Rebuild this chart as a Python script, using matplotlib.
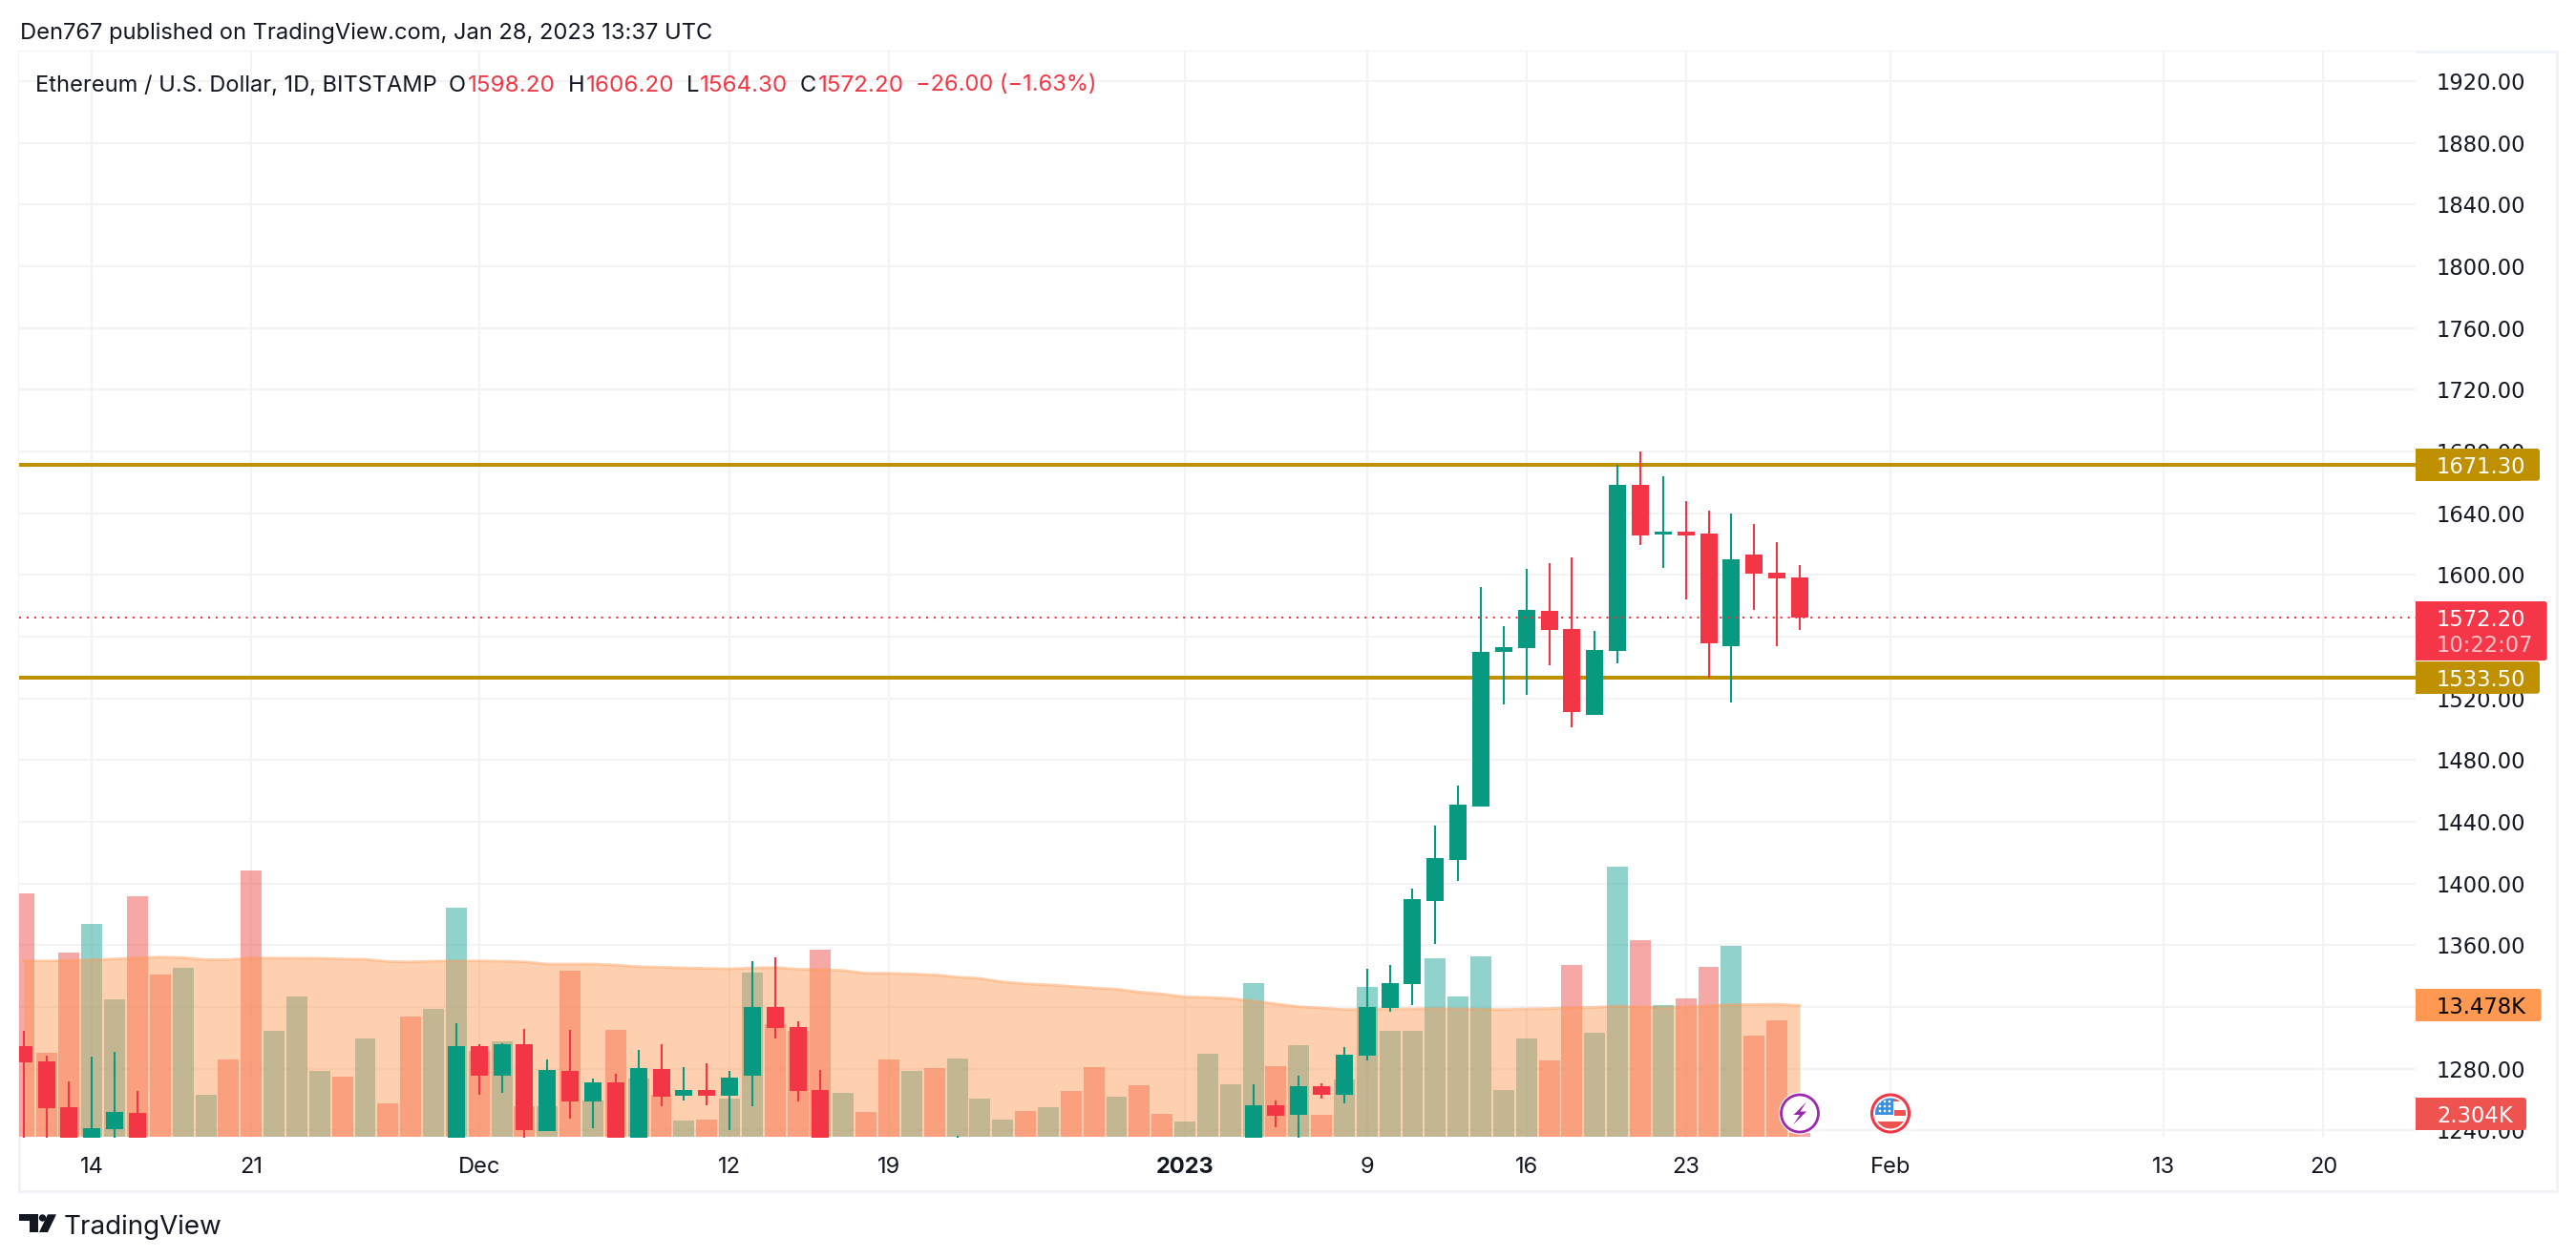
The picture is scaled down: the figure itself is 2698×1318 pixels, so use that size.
#!/usr/bin/env python3
"""
Ethereum daily candles with volume, TradingView snapshot style
"""

import matplotlib
matplotlib.use("Agg")
import matplotlib.pyplot as plt
import numpy as np
from matplotlib.patches import Circle, FancyBboxPatch, Polygon, Rectangle
from matplotlib.transforms import Affine2D

W, H = 2698, 1318

GREEN = "#089981"
RED = "#F23645"
GOLD = "#BF9000"
ORANGE = "#FF9850"
VOL_RED = "#EF5350"
VOL_GREEN = "#26A69A"
GRID = "#F3F3F4"
BORDER = "#F0F3FA"
TEXT = "#131722"
# price scale digits are tabular in the original, DejaVu has the same advance
SCALE_FONT = ["DejaVu Sans"]

# days are counted from 2023-01-01; candles below the visible range are left out
candle_days = [-51, -50, -49, -48, -47, -46,
               -32, -31, -30, -29, -28, -27, -26, -25, -24, -23, -22, -21, -20,
               -19, -18, -17, -16, -10,
               3, 4, 5, 6, 7, 8, 9, 10, 11, 12, 13, 14, 15, 16, 17, 18, 19, 20,
               21, 22, 23, 24, 25, 26, 27]
opens = [1294.7, 1284.8, 1255.1, 1220.0, 1240.9, 1251.4,
         1217.0, 1294.7, 1275.5, 1296.0, 1239.7, 1278.6, 1258.8, 1271.2, 1228.0, 1279.9, 1262.6, 1266.3, 1262.6,
         1275.5, 1320.1, 1307.1, 1266.3, 1215.0,
         1214.0, 1256.4, 1250.2, 1268.7, 1263.2, 1288.5, 1319.5, 1334.9, 1388.7, 1415.5, 1450.0, 1550.1, 1552.6, 1576.7, 1565.0, 1509.3, 1550.8, 1658.4,
         1626.2, 1628.1, 1626.8, 1553.9, 1613.2, 1601.5, 1598.2]
highs = [1304.6, 1288.5, 1271.8, 1287.9, 1291.0, 1265.7,
         1309.6, 1296.0, 1296.6, 1305.8, 1286.1, 1305.2, 1273.7, 1276.8, 1292.2, 1296.0, 1281.1, 1283.6, 1278.6,
         1349.8, 1352.2, 1310.8, 1279.3, 1236.6,
         1270.0, 1259.5, 1275.5, 1270.6, 1294.1, 1344.8, 1347.3, 1396.8, 1437.6, 1463.6, 1592.2, 1566.8, 1603.9, 1607.7, 1611.4, 1563.8, 1671.3, 1680.0,
         1663.9, 1647.9, 1641.7, 1639.8, 1633.0, 1621.3, 1606.2]
lows = [1225.0, 1225.0, 1210.0, 1210.0, 1232.0, 1218.0,
        1200.0, 1263.2, 1264.4, 1228.0, 1239.7, 1247.7, 1241.5, 1225.0, 1220.0, 1255.8, 1259.5, 1256.4, 1240.3,
        1255.8, 1299.7, 1258.8, 1215.0, 1210.0,
        1205.0, 1242.2, 1230.0, 1260.7, 1257.6, 1285.4, 1317.0, 1321.3, 1360.9, 1401.7, 1450.0, 1516.1, 1522.3, 1541.5, 1501.3, 1509.3, 1542.7, 1619.4,
        1604.6, 1584.2, 1533.4, 1517.4, 1577.4, 1553.9, 1564.3]
closes = [1284.2, 1254.5, 1222.0, 1241.5, 1252.0, 1228.0,
          1294.7, 1275.5, 1296.0, 1240.3, 1279.3, 1258.8, 1271.2, 1232.0, 1280.5, 1261.9, 1266.3, 1262.6, 1274.3,
          1320.1, 1306.5, 1265.7, 1225.0, 1225.0,
          1256.4, 1249.6, 1268.7, 1263.2, 1289.2, 1320.1, 1335.5, 1390.0, 1416.6, 1451.2, 1550.1, 1553.2, 1577.3, 1564.4, 1511.2, 1551.4, 1658.4, 1625.6,
          1628.1, 1625.6, 1555.7, 1610.1, 1600.9, 1597.8, 1572.2]

# volume in thousands, one value per day from -51 to 27
volume_days = list(range(-51, 28))
volumes = [23.27, 9.34, 18.10, 20.60, 14.01, 23.02, 16.18, 16.76, 5.67, 8.76,
           25.27, 11.26, 14.26, 7.75, 7.25, 10.59, 4.92, 12.51, 13.18, 22.02,
           9.51, 10.34, 4.67, 4.67, 16.51, 5.17, 11.34, 7.09, 5.67, 3.42,
           3.50, 5.34, 16.34, 11.84, 11.26, 18.35, 5.84, 4.17, 8.76, 7.75,
           8.00, 8.84, 5.34, 3.50, 4.25, 4.59, 6.00, 8.09, 5.50, 6.50,
           4.00, 3.33, 9.26, 6.59, 15.43, 8.17, 10.01, 3.92, 7.00, 15.09,
           11.26, 11.26, 17.60, 14.26, 17.76, 6.09, 10.59, 8.67, 17.01, 11.09,
           25.60, 19.18, 13.51, 14.09, 16.85, 18.68, 10.84, 12.17, 2.304]
volume_up = [0, 0, 0, 1, 1, 0, 0, 1, 1, 0,
             0, 1, 1, 1, 0, 1, 0, 0, 1, 1,
             0, 1, 0, 1, 0, 1, 0, 1, 0, 1,
             0, 1, 1, 0, 0, 0, 1, 0, 0, 1,
             0, 1, 1, 1, 0, 1, 0, 0, 1, 0,
             0, 1, 1, 1, 1, 0, 1, 0, 1, 1,
             1, 1, 1, 1, 1, 1, 1, 0, 0, 1,
             1, 0, 1, 0, 0, 1, 0, 0, 0]
volume_ma = [17.37, 17.37, 17.40, 17.48, 17.54, 17.62, 17.71, 17.65, 17.48, 17.48,
             17.62, 17.62, 17.60, 17.60, 17.54, 17.51, 17.32, 17.29, 17.35, 17.37,
             17.37, 17.35, 17.29, 17.10, 17.10, 17.10, 17.01, 16.87, 16.82, 16.76,
             16.71, 16.68, 16.76, 16.79, 16.65, 16.62, 16.54, 16.29, 16.29, 16.23,
             16.15, 15.96, 15.84, 15.54, 15.37, 15.29, 15.15, 15.01, 14.90, 14.65,
             14.48, 14.23, 14.18, 14.09, 13.87, 13.62, 13.37, 13.26, 13.12, 13.15,
             13.18, 13.18, 13.20, 13.18, 13.15, 13.12, 13.18, 13.20, 13.29, 13.31,
             13.43, 13.34, 13.29, 13.34, 13.45, 13.56, 13.56, 13.59, 13.48]

price_ticks = list(range(1240, 1921, 40))
date_ticks = [-48, -41, -31, -20, -13, 0, 8, 15, 22, 31, 43, 50]
date_labels = ["14", "21", "Dec", "12", "19", "2023", "9", "16", "23", "Feb", "13", "20"]

resistance = 1671.30
support = 1533.50
last_close = 1572.20

plt.rcParams["font.family"] = ["Inter", "DejaVu Sans"]

fig = plt.figure(figsize=(W / 100, H / 100), dpi=100, facecolor="white")

# everything outside the axes is placed in image pixels, y going down
PIXELS = Affine2D().scale(1, -1).translate(0, H)


def text_px(x, y, s, color=TEXT, size=17, ha="left", **kwargs):
    return fig.text(x / W, 1 - y / H, s, color=color, fontsize=size, ha=ha,
                    va="center_baseline", zorder=6, **kwargs)


def add_tag(x1, y0, y1, color):
    # square on the axis side, rounded on the outer side
    fig.add_artist(FancyBboxPatch((x1 - 40, y0 + 3), 37, y1 - y0 - 6, boxstyle="round,pad=3",
                                  fc=color, ec="none", transform=PIXELS, zorder=4))
    fig.add_artist(Rectangle((2530, y0), x1 - 2530 - 20, y1 - y0, fc=color, ec="none",
                             transform=PIXELS, zorder=4))


rect = [20 / W, 1 - 1191.7 / H, (2530 - 20) / W, (1191.7 - 53.7) / H]
xlim = (-51.2, 54.05)
ylim = (1235.5, 1939.3)

# bottom layer: grid and tick labels
ax_grid = fig.add_axes(rect, zorder=1)
ax_grid.set_xlim(xlim)
ax_grid.set_ylim(ylim)
ax_grid.yaxis.tick_right()
ax_grid.set_yticks(price_ticks)
ax_grid.set_yticklabels([f"{p}.00" for p in price_ticks], family=SCALE_FONT)
ax_grid.set_xticks(date_ticks)
ax_grid.set_xticklabels(date_labels)
ax_grid.get_xticklabels()[5].set_fontweight("bold")
ax_grid.tick_params(axis="y", length=0, pad=15.8, labelsize=16.3, labelcolor=TEXT)
ax_grid.tick_params(axis="x", length=0, pad=14.5, labelsize=17, labelcolor=TEXT)
ax_grid.grid(True, color=GRID, linewidth=1.6)
ax_grid.set_axisbelow(True)
for s in ax_grid.spines.values():
    s.set_visible(False)

# middle layer: volume bars with the moving average area on top of them
ax_vol = fig.add_axes(rect, zorder=2)
ax_vol.set_xlim(xlim)
ax_vol.set_ylim(1.944, 96.85)
ax_vol.axis("off")
base = 2.0
bar_colors = [VOL_GREEN if up else VOL_RED for up in volume_up]
ax_vol.bar(volume_days, np.array(volumes) - base, bottom=base, width=0.92, color=bar_colors,
           alpha=0.5, linewidth=0)
ax_vol.fill_between(volume_days, 2.05, volume_ma, color=ORANGE, alpha=0.456, linewidth=0)
ax_vol.plot(volume_days, volume_ma, color=ORANGE, alpha=0.45, linewidth=2)

# top layer: levels, candles, last price
ax = fig.add_axes(rect, zorder=3)
ax.set_xlim(xlim)
ax.set_ylim(ylim)
ax.axis("off")
ax.axhline(resistance, color=GOLD, linewidth=2.9, zorder=1)
ax.axhline(support, color=GOLD, linewidth=2.9, zorder=1)
candle_colors = [GREEN if c >= o else RED for o, c in zip(opens, closes)]
ax.vlines(candle_days, lows, highs, colors=candle_colors, linewidth=1.5, zorder=2)
ax.bar(candle_days, np.abs(np.array(closes) - np.array(opens)), bottom=np.minimum(opens, closes),
       width=0.755, color=candle_colors, linewidth=0, zorder=3)
ax.axhline(last_close, color=RED, linewidth=1.5, linestyle=(0, (1, 2.8)), zorder=4)

# outer frame
fig.add_artist(Rectangle((20, 53.5), 2658, 1194.5, fc="none", ec=BORDER, lw=2.2,
                         transform=PIXELS, zorder=0.5))

# price scale tags
add_tag(2660, 470, 503.7, GOLD)
add_tag(2660, 693, 726.7, GOLD)
add_tag(2667.7, 630, 692, "#F43648")
add_tag(2661.7, 1036, 1070, ORANGE)
add_tag(2646, 1150, 1184, VOL_RED)
text_px(2552, 486.7, "1671.30", color="white", size=16.3, family=SCALE_FONT)
text_px(2552, 710, "1533.50", color="white", size=16.3, family=SCALE_FONT)
text_px(2552, 646.7, "1572.20", color="white", size=16.3, family=SCALE_FONT)
text_px(2552, 674, "10:22:07", color="#FBC3C8", size=16.3, family=SCALE_FONT)
text_px(2552, 1052.7, "13.478K", color="black", size=16.3, family=SCALE_FONT)
text_px(2552, 1166.7, "2.304K", color="white", size=16.3, family=SCALE_FONT)

# header and legend
text_px(21, 32, "Den767 published on TradingView.com, Jan 28, 2023 13:37 UTC", size=17.05)
text_px(37, 87, "Ethereum / U.S. Dollar, 1D, BITSTAMP", size=17)
for x, s in [(470, "O"), (595, "H"), (719, "L"), (838, "C")]:
    text_px(x, 87, s, size=17)
for x, s in [(490, "1598.20"), (614, "1606.20"), (733, "1564.30"), (857, "1572.20")]:
    text_px(x, 87, s, color=RED, size=17.4)
text_px(959, 87, "\u221226.00 (\u22121.63%)", color=RED, size=17)

# TradingView logo
for pts in [[(20, 1272.3), (40, 1272.3), (40, 1291), (31, 1291), (31, 1278.5), (20, 1278.5)],
            [(50, 1272.3), (59, 1272.3), (50, 1291), (41, 1291)]]:
    fig.add_artist(Polygon(pts, closed=True, fc=TEXT, ec="none", transform=PIXELS, zorder=5))
fig.add_artist(Circle((44.5, 1276), 3.7, fc=TEXT, ec="none", transform=PIXELS, zorder=5))
text_px(67, 1283, "TradingView", size=20)

# event markers on the time scale
cy = 1166.5
fig.add_artist(Circle((1885, cy), 22, fc="white", ec="none", transform=PIXELS, zorder=5))
fig.add_artist(Circle((1885, cy), 19.5, fc="white", ec="#9C27B0", lw=2, transform=PIXELS, zorder=5))
fig.add_artist(Polygon([(1892, 1154.5), (1878.5, 1168), (1885, 1168), (1878, 1178.5),
                        (1892, 1164.5), (1885.5, 1164.5)], closed=True, fc="#9C27B0", ec="none",
                       transform=PIXELS, zorder=5))

fig.add_artist(Circle((1980, cy), 22, fc="white", ec="none", transform=PIXELS, zorder=5))
fig.add_artist(Circle((1980, cy), 19.5, fc="white", ec=RED, lw=2.2, transform=PIXELS, zorder=5))
flag_clip = Circle((1980, cy), 16, transform=PIXELS)
for x0, y0, w, h, c in [(1964, 1150, 18.5, 18, "#3D8FE0"), (1982.5, 1150, 16, 3.5, VOL_RED),
                        (1983.5, 1162.5, 16, 6.5, VOL_RED), (1964, 1174.5, 32, 8, VOL_RED)]:
    part = Rectangle((x0, y0), w, h, fc=c, ec="none", transform=PIXELS, zorder=5.1)
    fig.add_artist(part)
    part.set_clip_path(flag_clip)
for sx in [1969, 1974, 1979]:
    for sy in [1154, 1159, 1164]:
        fig.add_artist(Circle((sx, sy), 1.3, fc="white", ec="none", transform=PIXELS, zorder=5.2))

fig.savefig("out.png", dpi=100, facecolor="white")
